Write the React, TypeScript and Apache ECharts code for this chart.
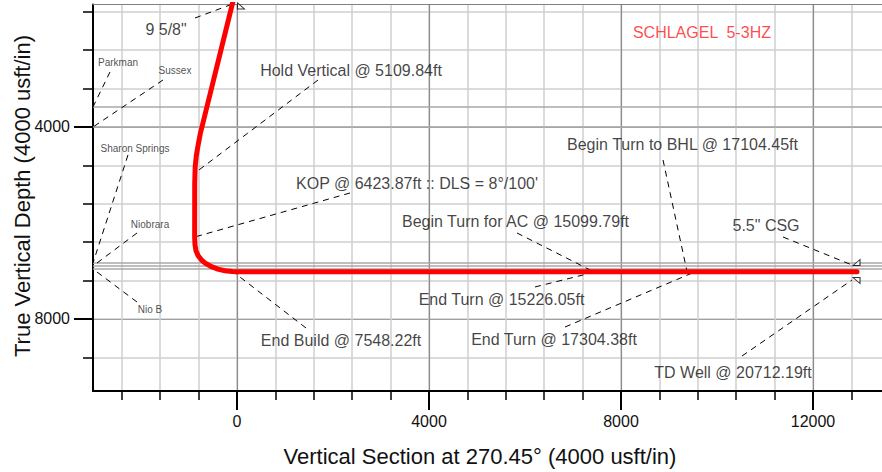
import React, { useEffect, useRef } from "react";
import * as echarts from "echarts";

const FONT = '"Liberation Sans", Arial, Helvetica, sans-serif';

// Axis ranges (usft)
const vsMin = -3000;
const vsMax = 13437;
const tvdMin = 1448;
const tvdMax = 9500;

// Tick values
const xMinorTicks = [-2400, -1600, -800, 0, 800, 1600, 2400, 3200, 4000, 4800, 5600, 6400, 7200, 8000, 8800, 9600, 10400, 11200, 12000, 12800];
const xMajorTicks = [0, 4000, 8000, 12000];
const yMinorTicks = [1600, 2400, 3200, 4000, 4800, 5600, 6400, 7200, 8000, 8800];
const yMajorTicks = [4000, 8000];

// Well path (vertical section, TVD)
const wellPathVS = [-40, -94, -764, -816, -850, -871, -881, -882, -875, -855, -810, -740, -650, -530, -400, -250, -100, 0, 12917];
const wellPathTVD = [1200, 1423, 4135, 4410, 4620, 4830, 5180, 6300, 6450, 6580, 6680, 6770, 6845, 6910, 6960, 6995, 7012, 7014, 7014];

// Formation tops
const formationNames = ["Parkman", "Sussex", "Sharon Springs", "Niobrara", "Nio B"];
const formationTVD = [3583, 4000, 6833, 6896, 6958];
const formationLabelVS = [-2479, -1292, -2125, -1812, -1812];
const formationLabelTVD = [2646, 2833, 4458, 6021, 7812];
const formationLeaderVS = [-2646, -1542, -2271, -2083, -2083];
const formationLeaderTVD = [2854, 3021, 4583, 6208, 7646];

// Well point annotations
const pointNames = [
  '9 5/8"',
  "Hold Vertical @ 5109.84ft",
  "KOP @ 6423.87ft :: DLS = 8°/100'",
  "End Build @ 7548.22ft",
  "Begin Turn for AC @ 15099.79ft",
  "End Turn @ 15226.05ft",
  "Begin Turn to BHL @ 17104.45ft",
  "End Turn @ 17304.38ft",
  '5.5" CSG',
  "TD Well @ 20712.19ft",
];
const pointVS = [-146, -878, -882, -83, 7458, 7458, 9375, 9583, 12812, 12812];
const pointTVD = [1458, 4960, 6292, 7014, 7030, 7020, 7010, 7000, 6875, 7187];
const pointLabelVS = [-1479, 2375, 3750, 2167, 5802, 5510, 9281, 6604, 11021, 10333];
const pointLabelTVD = [1979, 2813, 5167, 8458, 5979, 7604, 4375, 8437, 6042, 9125];
const pointLeaderVS = [-875, 1688, 2354, 1437, 5833, 6208, 8875, 6833, 11375, 10521];
const pointLeaderTVD = [1729, 3021, 5375, 8187, 6208, 7333, 4687, 8167, 6292, 8771];

// Casing shoes (half-triangle markers)
const casingVS = [83, 12906, 12906];
const casingTVD = [1479, 6823, 7198];
const casingShapes = [
  "path://M0,0 L0,10 L10,10 Z",
  "path://M0,10 L10,0 L10,10 Z",
  "path://M0,0 L10,0 L10,10 Z",
];

const wellName = "SCHLAGEL  5-3HZ";
const wellNameVS = 9687;
const wellNameTVD = 2021;

export default function App() {
  const ref = useRef<HTMLDivElement>(null);

  useEffect(() => {
    if (!ref.current) return;
    const chart = echarts.init(ref.current, null, { renderer: "svg" });

    const baseX = { type: "value", min: vsMin, max: vsMax };
    const baseY = { type: "value", min: tvdMin, max: tvdMax, inverse: true };
    const plain = (v: number) => String(v);

    const option: any = {
      animation: false,
      backgroundColor: "#ffffff",
      grid: { left: 93, right: 0, top: 4.5, bottom: 81, containLabel: false },
      xAxis: [
        {
          ...baseX,
          position: "bottom",
          axisLine: { onZero: false, lineStyle: { color: "#000", width: 2 } },
          axisTick: { show: true, customValues: xMinorTicks, length: 9, lineStyle: { color: "#000", width: 1.5 } },
          axisLabel: { show: false },
          splitLine: { show: true, lineStyle: { color: "#cfcfcf", width: 1.5 } },
        },
        {
          ...baseX,
          position: "bottom",
          axisLine: { show: false, onZero: false },
          axisTick: { show: true, customValues: xMajorTicks, length: 19, lineStyle: { color: "#000", width: 2 } },
          axisLabel: { show: true, customValues: xMajorTicks, formatter: plain, fontSize: 16, color: "#111", margin: 22, fontFamily: FONT },
          splitLine: { show: true, lineStyle: { color: "#8c8c8c", width: 1.2 } },
        },
        {
          ...baseX,
          position: "top",
          axisLine: { show: true, onZero: false, lineStyle: { color: "#808080", width: 1 } },
          axisTick: { show: false },
          axisLabel: { show: false },
          splitLine: { show: false },
        },
      ],
      yAxis: [
        {
          ...baseY,
          position: "left",
          axisLine: { onZero: false, lineStyle: { color: "#000", width: 2 } },
          axisTick: { show: true, customValues: yMinorTicks, length: 10, lineStyle: { color: "#000", width: 1.5 } },
          axisLabel: { show: false },
          splitLine: { show: true, lineStyle: { color: "#cfcfcf", width: 1.5 } },
        },
        {
          ...baseY,
          position: "left",
          axisLine: { show: false, onZero: false },
          axisTick: { show: true, customValues: yMajorTicks, length: 19, lineStyle: { color: "#000", width: 2 } },
          axisLabel: { show: true, customValues: yMajorTicks, formatter: plain, fontSize: 16, color: "#111", margin: 23, fontFamily: FONT },
          splitLine: { show: true, lineStyle: { color: "#a0a0a0", width: 1.2 } },
        },
      ],
      graphic: [
        {
          type: "text",
          x: 480,
          y: 456,
          silent: true,
          style: {
            text: "Vertical Section at 270.45° (4000 usft/in)",
            font: `22px ${FONT}`,
            fill: "#111",
            align: "center",
            verticalAlign: "middle",
            textAlign: "center",
            textVerticalAlign: "middle",
          },
        },
        {
          type: "text",
          x: 22,
          y: 196,
          rotation: Math.PI / 2,
          silent: true,
          style: {
            text: "True Vertical Depth (4000 usft/in)",
            font: `22px ${FONT}`,
            fill: "#111",
            align: "center",
            verticalAlign: "middle",
            textAlign: "center",
            textVerticalAlign: "middle",
          },
        },
      ],
      series: [
        {
          name: "formations",
          type: "lines",
          coordinateSystem: "cartesian2d",
          xAxisIndex: 0,
          yAxisIndex: 0,
          silent: true,
          z: 2,
          lineStyle: { color: "#a8a8a8", width: 1.5, type: "solid", opacity: 1 },
          data: formationTVD.map((t) => ({ coords: [[vsMin, t], [vsMax, t]] })),
        },
        {
          name: "formationLeaders",
          type: "lines",
          coordinateSystem: "cartesian2d",
          xAxisIndex: 0,
          yAxisIndex: 0,
          silent: true,
          z: 3,
          lineStyle: { color: "#000", width: 1, type: [6, 5], opacity: 1 },
          data: formationTVD.map((t, i) => ({
            coords: [[formationLeaderVS[i], formationLeaderTVD[i]], [vsMin, t]],
          })),
        },
        {
          name: "pointLeaders",
          type: "lines",
          coordinateSystem: "cartesian2d",
          xAxisIndex: 0,
          yAxisIndex: 0,
          silent: true,
          z: 3,
          lineStyle: { color: "#000", width: 1, type: [6, 5], opacity: 1 },
          data: pointNames.map((_, i) => ({
            coords: [[pointLeaderVS[i], pointLeaderTVD[i]], [pointVS[i], pointTVD[i]]],
          })),
        },
        {
          name: "wellpath",
          type: "line",
          xAxisIndex: 0,
          yAxisIndex: 0,
          z: 5,
          showSymbol: false,
          symbol: "none",
          clip: true,
          lineStyle: { color: "#ff0000", width: 5, cap: "round", join: "round" },
          data: wellPathVS.map((v, i) => [v, wellPathTVD[i]]),
        },
        {
          name: "casing",
          type: "scatter",
          xAxisIndex: 0,
          yAxisIndex: 0,
          z: 6,
          symbolSize: [7, 6],
          itemStyle: { color: "#ffffff", borderColor: "#000", borderWidth: 1 },
          data: casingVS.map((v, i) => ({ value: [v, casingTVD[i]], symbol: casingShapes[i] })),
        },
        {
          name: "formationLabels",
          type: "scatter",
          xAxisIndex: 0,
          yAxisIndex: 0,
          z: 7,
          symbolSize: 1,
          itemStyle: { color: "rgba(0,0,0,0)" },
          label: { show: true, position: "inside", formatter: "{b}", fontSize: 10, color: "#222", fontFamily: FONT },
          data: formationNames.map((n, i) => ({ name: n, value: [formationLabelVS[i], formationLabelTVD[i]] })),
        },
        {
          name: "pointLabels",
          type: "scatter",
          xAxisIndex: 0,
          yAxisIndex: 0,
          z: 7,
          symbolSize: 1,
          itemStyle: { color: "rgba(0,0,0,0)" },
          label: { show: true, position: "inside", formatter: "{b}", fontSize: 16, color: "#111", fontFamily: FONT },
          data: pointNames.map((n, i) => ({ name: n, value: [pointLabelVS[i], pointLabelTVD[i]] })),
        },
        {
          name: "title",
          type: "scatter",
          xAxisIndex: 0,
          yAxisIndex: 0,
          z: 7,
          symbolSize: 1,
          itemStyle: { color: "rgba(0,0,0,0)" },
          label: { show: true, position: "inside", formatter: "{b}", fontSize: 16, color: "#ff1a1a", fontFamily: FONT },
          data: [{ name: wellName, value: [wellNameVS, wellNameTVD] }],
        },
      ],
    };

    chart.setOption(option);
    return () => chart.dispose();
  }, []);

  return (
    <div
      ref={ref}
      style={{ position: "fixed", left: 0, top: 0, width: 882, height: 472, background: "#fff" }}
    />
  );
}
